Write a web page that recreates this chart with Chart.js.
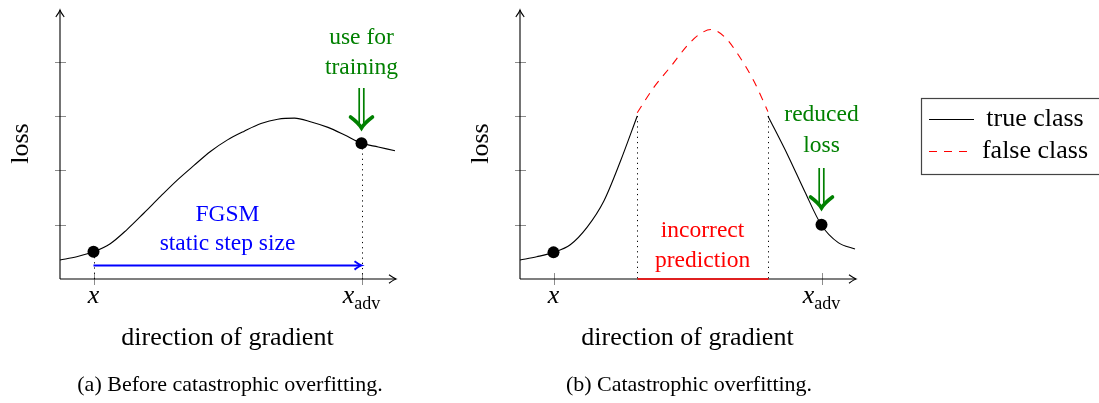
<!DOCTYPE html>
<html>
<head>
<meta charset="utf-8">
<script src="https://cdn.jsdelivr.net/npm/chart.js@4.4.1/dist/chart.umd.min.js"></script>
<style>
  body { margin: 0; background: #fff; width: 1099px; height: 403px; overflow: hidden; position: relative; }
  canvas { position: absolute; top: 0; }
  #before { left: 0; }
  #after { left: 460px; }
</style>
</head>
<body>
<canvas id="before" width="460" height="403"></canvas>
<canvas id="after" width="639" height="403"></canvas>
<script>
// Values (x: direction of gradient, y: loss)
const beforeX = [0, 0.5, 1, 1.5, 2, 2.5, 3, 3.5, 4, 4.5, 5, 5.5, 6, 6.5, 7, 7.5, 8, 8.5, 9, 9.5, 10];
const beforeLoss = [0.35, 0.41, 0.5, 0.65, 0.91, 1.21, 1.52, 1.82, 2.09, 2.35, 2.56, 2.72, 2.86, 2.94, 2.96, 2.89, 2.79, 2.65, 2.5, 2.43, 2.36];

const afterLeftX = [0, 0.5, 1, 1.5, 2, 2.5, 3, 3.5];
const afterLeftLoss = [0.35, 0.41, 0.49, 0.63, 0.95, 1.43, 2.17, 3.0];
const falseX = [3.5, 4, 4.5, 5, 5.35, 5.7, 6.1, 6.5, 7, 7.4];
const falseLoss = [3.06, 3.53, 3.91, 4.3, 4.5, 4.59, 4.46, 4.14, 3.62, 3.08];
const afterRightX = [7.4, 8, 8.5, 9, 9.5, 10];
const afterRightLoss = [3.0, 2.27, 1.61, 0.99, 0.67, 0.55];

// marked points x and x_adv
const pointX = [1, 9];
const beforePointLoss = [0.5, 2.5];
const afterPointLoss = [0.49, 1.0];

const xTicks = [1, 9];
const yTicks = [1, 2, 3, 4];
const legendLabels = ['true class', 'false class'];

const SERIF = '"Liberation Serif", "Times New Roman", serif';
const GREEN = '#008000';

function pts(xs, ys) {
    return xs.map((v, i) => ({ x: v, y: ys[i] }));
}

function line(ctx, x0, y0, x1, y1) {
    ctx.beginPath();
    ctx.moveTo(x0, y0);
    ctx.lineTo(x1, y1);
    ctx.stroke();
}

// tikz style "->" tip
function arrowHead(ctx, x, y, angle, size) {
    ctx.save();
    ctx.translate(x, y);
    ctx.rotate(angle);
    ctx.beginPath();
    ctx.moveTo(-size, -size * 0.6);
    ctx.quadraticCurveTo(-size * 0.3, -size * 0.1, 0, 0);
    ctx.quadraticCurveTo(-size * 0.3, size * 0.1, -size, size * 0.6);
    ctx.stroke();
    ctx.restore();
}

// green "=>" pointing down
function doubleArrow(ctx, cx, y0, y1) {
    ctx.save();
    ctx.strokeStyle = GREEN;
    ctx.lineWidth = 1.7;
    line(ctx, cx - 2.3, y0, cx - 2.3, y1 - 5);
    line(ctx, cx + 2.3, y0, cx + 2.3, y1 - 5);
    ctx.lineWidth = 3.6;
    ctx.lineCap = 'round';
    ctx.beginPath();
    ctx.moveTo(cx - 11, y1 - 11);
    ctx.quadraticCurveTo(cx - 3, y1 - 5, cx, y1);
    ctx.quadraticCurveTo(cx + 3, y1 - 5, cx + 11, y1 - 11);
    ctx.stroke();
    ctx.restore();
}

function dotted(ctx, x0, y0, x1, y1) {
    ctx.save();
    ctx.strokeStyle = '#000';
    ctx.lineWidth = 1;
    ctx.setLineDash([1.2, 4]);
    line(ctx, x0, y0, x1, y1);
    ctx.restore();
}

// axes, arrows, ticks
const axesPlugin = {
    id: 'axes',
    beforeDatasetsDraw(chart) {
        const { ctx, chartArea: a, scales: { x, y } } = chart;
        ctx.save();
        ctx.strokeStyle = '#8c8c8c';
        ctx.lineWidth = 1;
        yTicks.forEach(v => {
            const py = Math.round(y.getPixelForValue(v)) + 0.5;
            line(ctx, a.left - 5, py, a.left + 6, py);
        });
        xTicks.forEach(v => {
            const px = Math.round(x.getPixelForValue(v)) + 0.5;
            line(ctx, px, a.bottom - 6, px, a.bottom + 6);
        });
        ctx.strokeStyle = '#000';
        ctx.lineWidth = 1.1;
        line(ctx, a.left, a.bottom, a.right + 1, a.bottom);
        line(ctx, a.left, a.bottom, a.left, a.top);
        arrowHead(ctx, a.right + 1, a.bottom, 0, 7);
        arrowHead(ctx, a.left, a.top, -Math.PI / 2, 7);
        ctx.restore();
    },
    afterDraw(chart) {
        const { ctx, chartArea: a, scales: { x } } = chart;
        ctx.save();
        ctx.fillStyle = '#000';
        ctx.textBaseline = 'alphabetic';
        // x tick labels
        ctx.textAlign = 'center';
        ctx.font = 'italic 26px ' + SERIF;
        ctx.fillText('x', x.getPixelForValue(xTicks[0]), 303);
        const cx = x.getPixelForValue(xTicks[1]);
        const w1 = ctx.measureText('x').width;
        ctx.font = '18px ' + SERIF;
        const w2 = ctx.measureText('adv').width;
        const start = cx - (w1 + w2) / 2;
        ctx.textAlign = 'left';
        ctx.fillText('adv', start + w1, 308.5);
        ctx.font = 'italic 26px ' + SERIF;
        ctx.fillText('x', start, 303);
        // axis titles
        ctx.textAlign = 'center';
        ctx.font = '26px ' + SERIF;
        ctx.fillText('direction of gradient', (a.left + a.right) / 2, 345);
        ctx.save();
        ctx.translate(28, (a.top + a.bottom) / 2 - 1);
        ctx.rotate(-Math.PI / 2);
        ctx.fillText('loss', 0, 0);
        ctx.restore();
        ctx.restore();
    }
};

function makeChart(id, datasets, extra) {
    return new Chart(id, {
        type: 'line',
        data: { datasets },
        options: {
            responsive: false,
            animation: false,
            devicePixelRatio: 1,
            layout: { padding: { left: 60, right: id === 'before' ? 65 : 244, top: 10, bottom: 124 } },
            scales: {
                x: { type: 'linear', min: 0, max: 10, display: false },
                y: { type: 'linear', min: 0, max: 4.95, display: false }
            },
            plugins: { legend: { display: false }, tooltip: { enabled: false } },
            elements: { point: { radius: 0 } }
        },
        plugins: [axesPlugin, extra]
    });
}

const dotStyle = { showLine: false, pointRadius: 6, pointBackgroundColor: '#000', pointBorderWidth: 0, order: 0, clip: false };
const curveStyle = { borderColor: '#000', borderWidth: 1.1, cubicInterpolationMode: 'monotone', fill: false, order: 1, clip: false };

// (a) before catastrophic overfitting
makeChart('before', [
    { label: 'points', data: pts(pointX, beforePointLoss), ...dotStyle },
    { label: legendLabels[0], data: pts(beforeX, beforeLoss), ...curveStyle }
], {
    id: 'beforeNotes',
    beforeDatasetsDraw(chart) {
        const { ctx, scales: { x, y } } = chart;
        pointX.forEach((v, i) => {
            const px = Math.round(x.getPixelForValue(v)) + 0.5;
            dotted(ctx, px, y.getPixelForValue(beforePointLoss[i]), px, y.getPixelForValue(0));
        });
    },
    afterDraw(chart) {
        const { ctx, scales: { x, y } } = chart;
        ctx.save();
        // FGSM step arrow
        const ay = y.getPixelForValue(0.25);
        ctx.strokeStyle = '#0000ff';
        ctx.lineWidth = 2;
        line(ctx, x.getPixelForValue(1), ay, x.getPixelForValue(9) - 1, ay);
        arrowHead(ctx, x.getPixelForValue(9), ay, 0, 7);
        ctx.textAlign = 'center';
        ctx.font = '23.5px ' + SERIF;
        ctx.fillStyle = '#0000ff';
        ctx.fillText('FGSM', x.getPixelForValue(5), 221);
        ctx.fillText('static step size', x.getPixelForValue(5), 250);
        ctx.fillStyle = GREEN;
        const gx = x.getPixelForValue(9);
        ctx.fillText('use for', gx, 44);
        ctx.fillText('training', gx, 74);
        doubleArrow(ctx, gx, 88, 128);
        // caption
        ctx.fillStyle = '#000';
        ctx.font = '22px ' + SERIF;
        ctx.fillText('(a) Before catastrophic overfitting.', 230, 391);
        ctx.restore();
    }
});

// (b) catastrophic overfitting
makeChart('after', [
    { label: 'points', data: pts(pointX, afterPointLoss), ...dotStyle },
    { label: legendLabels[0], data: pts(afterLeftX, afterLeftLoss), ...curveStyle },
    { label: legendLabels[1], data: pts(falseX, falseLoss), ...curveStyle, borderColor: '#ff0000', borderDash: [8, 7] },
    { label: legendLabels[0], data: pts(afterRightX, afterRightLoss), ...curveStyle }
], {
    id: 'afterNotes',
    beforeDatasetsDraw(chart) {
        const { ctx, scales: { x, y } } = chart;
        const x0 = Math.round(x.getPixelForValue(falseX[0])) + 0.5;
        const x1 = Math.round(x.getPixelForValue(falseX[falseX.length - 1])) + 0.5;
        dotted(ctx, x0, y.getPixelForValue(3), x0, y.getPixelForValue(0));
        dotted(ctx, x1, y.getPixelForValue(3), x1, y.getPixelForValue(0));
        ctx.save();
        ctx.strokeStyle = '#ff0000';
        ctx.lineWidth = 1.5;
        line(ctx, x0, y.getPixelForValue(0), x1, y.getPixelForValue(0));
        ctx.restore();
    },
    afterDraw(chart) {
        const { ctx, scales: { x, y } } = chart;
        ctx.save();
        ctx.textAlign = 'center';
        ctx.font = '23.5px ' + SERIF;
        ctx.fillStyle = '#ff0000';
        const mx = (x.getPixelForValue(falseX[0]) + x.getPixelForValue(falseX[falseX.length - 1])) / 2;
        ctx.fillText('incorrect', mx, 237);
        ctx.fillText('prediction', mx, 267);
        ctx.fillStyle = GREEN;
        const gx = x.getPixelForValue(9);
        ctx.fillText('reduced', gx, 121);
        ctx.fillText('loss', gx, 152);
        doubleArrow(ctx, gx, 168, 208);
        // caption
        ctx.fillStyle = '#000';
        ctx.font = '22px ' + SERIF;
        ctx.fillText('(b) Catastrophic overfitting.', 229, 391);
        // legend box
        ctx.strokeStyle = '#444';
        ctx.lineWidth = 1.2;
        ctx.strokeRect(461.5, 98.5, 200, 76);
        ctx.strokeStyle = '#000';
        ctx.lineWidth = 1.1;
        line(ctx, 469, 119.5, 514, 119.5);
        ctx.strokeStyle = '#ff0000';
        ctx.setLineDash([8, 7]);
        line(ctx, 469, 151.5, 514, 151.5);
        ctx.setLineDash([]);
        ctx.fillStyle = '#000';
        ctx.font = '26px ' + SERIF;
        ctx.fillText(legendLabels[0], 575, 126);
        ctx.fillText(legendLabels[1], 575, 158);
        ctx.restore();
    }
});
</script>
</body>
</html>
